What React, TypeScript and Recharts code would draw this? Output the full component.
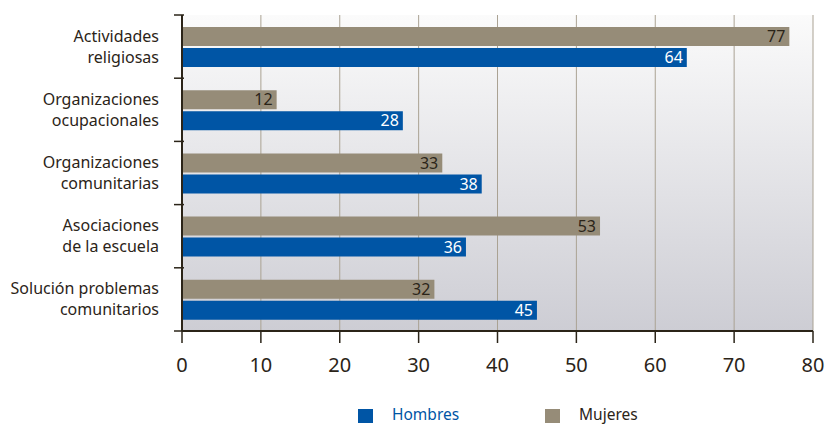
import React from "react";
import { BarChart, Bar, XAxis, YAxis, CartesianGrid, LabelList, Legend } from "recharts";

const categories = [
  "Actividades|religiosas",
  "Organizaciones|ocupacionales",
  "Organizaciones|comunitarias",
  "Asociaciones|de la escuela",
  "Solución problemas|comunitarios",
];
const mujeres = [77, 12, 33, 53, 32];
const hombres = [64, 28, 38, 36, 45];
const xTicks = [0, 10, 20, 30, 40, 50, 60, 70, 80];

const data = categories.map((c, i) => ({ name: c, Mujeres: mujeres[i], Hombres: hombres[i] }));

const FONT = "'Noto Sans', 'Open Sans', sans-serif";
const DARK = "#2b2418";
const BLUE = "#0055a5";
const GRAY = "#968c78";

const CatTick = (props: any) => {
  const { x, y, payload, index } = props;
  const lines = String(payload.value).split("|");
  const off = payload.offset ?? 31.5;
  return (
    <g>
      <line x1={x} x2={x + 10} y1={y - off} y2={y - off} stroke={DARK} strokeWidth={1.5} />
      {index === categories.length - 1 && (
        <line x1={x} x2={x + 10} y1={y + off} y2={y + off} stroke={DARK} strokeWidth={1.5} />
      )}
      <text x={x - 15} y={y} textAnchor="end" fontFamily={FONT} fontSize={16} fill={DARK}>
        <tspan x={x - 15} dy={-10.5 + 5.5}>{lines[0]}</tspan>
        <tspan x={x - 15} dy={21}>{lines[1]}</tspan>
      </text>
    </g>
  );
};

const LegendContent = () => (
  <div style={{ position: "relative", height: 19, fontFamily: FONT, fontSize: 15.5, lineHeight: "19px" }}>
    <div style={{ position: "absolute", left: 358, top: 4, width: 15, height: 14, background: BLUE }} />
    <div style={{ position: "absolute", left: 392, top: 0, color: BLUE }}>Hombres</div>
    <div style={{ position: "absolute", left: 545, top: 4, width: 15, height: 14, background: GRAY }} />
    <div style={{ position: "absolute", left: 579, top: 0, color: DARK }}>Mujeres</div>
  </div>
);

export default function App() {
  return (
    <div style={{ position: "absolute", left: 0, top: 0, width: 826, height: 425, background: "#fff" }}>
      <svg width={0} height={0} style={{ position: "absolute" }}>
        <defs>
          <linearGradient id="bgGrad" x1="0" y1="0" x2="0" y2="1">
            <stop offset="0%" stopColor="#fbfbfb" />
            <stop offset="100%" stopColor="#cdcdd4" />
          </linearGradient>
        </defs>
      </svg>
      <BarChart
        width={826}
        height={425}
        data={data}
        layout="vertical"
        margin={{ top: 15, right: 13, bottom: 20, left: 0 }}
        barGap={2}
        barSize={19}
      >
        <CartesianGrid horizontal={false} vertical stroke="#aaa293" fill="url(#bgGrad)" fillOpacity={1} />
        <XAxis
          type="number"
          domain={[0, 80]}
          ticks={xTicks}
          interval={0}
          tickSize={12}
          tickMargin={15}
          axisLine={{ stroke: DARK, strokeWidth: 2 }}
          tickLine={{ stroke: DARK, strokeWidth: 1.5 }}
          tick={{ fontFamily: FONT, fontSize: 20, fill: DARK }}
          height={55}
        />
        <YAxis
          type="category"
          dataKey="name"
          width={182}
          axisLine={{ stroke: DARK, strokeWidth: 2 }}
          tickLine={false}
          tick={<CatTick />}
          interval={0}
        />
        <Legend
          verticalAlign="bottom"
          content={<LegendContent />}
          wrapperStyle={{ left: 0, width: 826, top: 405, bottom: "auto" }}
        />
        <Bar dataKey="Mujeres" fill={GRAY} isAnimationActive={false}>
          <LabelList dataKey="Mujeres" position="insideRight" offset={4} fill={DARK} fontFamily={FONT} fontSize={16} />
        </Bar>
        <Bar dataKey="Hombres" fill={BLUE} isAnimationActive={false}>
          <LabelList dataKey="Hombres" position="insideRight" offset={4} fill="#ffffff" fontFamily={FONT} fontSize={16} />
        </Bar>
      </BarChart>
    </div>
  );
}
